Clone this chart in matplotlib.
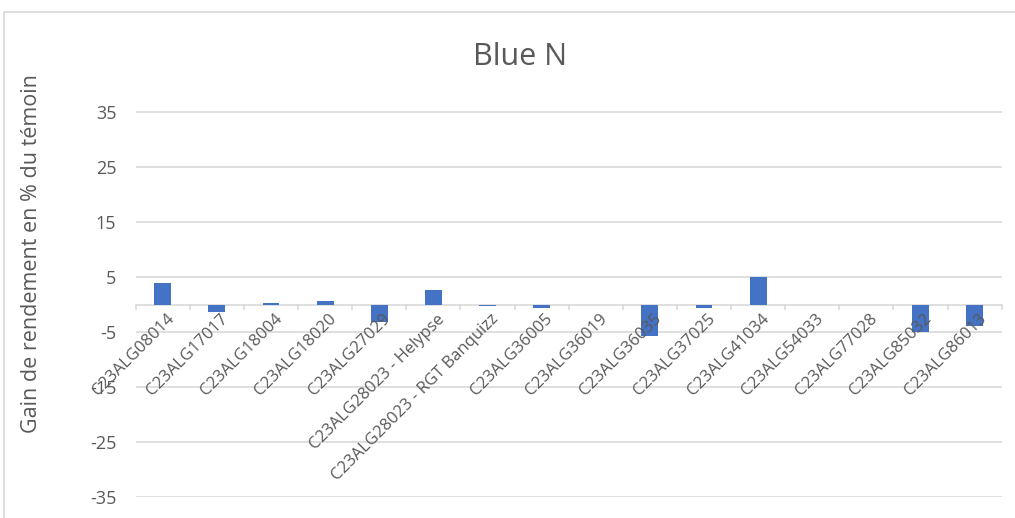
import numpy as np
from matplotlib import pyplot as plt
from matplotlib.patches import Rectangle

categories = ['C23ALG08014', 'C23ALG17017', 'C23ALG18004', 'C23ALG18020',
              'C23ALG27029', 'C23ALG28023 - Helypse', 'C23ALG28023 - RGT Banquizz',
              'C23ALG36005', 'C23ALG36019', 'C23ALG36035', 'C23ALG37025',
              'C23ALG41034', 'C23ALG54033', 'C23ALG77028', 'C23ALG85032', 'C23ALG86013']
gains = [4.0, -1.3, 0.2, 0.7, -3.1, 2.6, -0.2, -0.6, 0.0, -5.7, -0.7, 5.05, 0.0, 0.0, -4.95, -3.85]
yticks = [-35, -25, -15, -5, 5, 15, 25, 35]

plt.rcParams['font.family'] = ['Open Sans', 'DejaVu Sans']
plt.rcParams['axes.unicode_minus'] = False
text_col = '#595959'
grid_col = '#d9d9d9'

fig = plt.figure(figsize=(10.15, 5.18), dpi=100)
ax = fig.add_axes([135.7 / 1015, 1 - 497 / 518, 866 / 1015, (497 - 84.5) / 518])

x = np.arange(len(categories))
ax.bar(x, gains, width=0.31, color='#4472c4', zorder=3)

ax.set_xlim(-0.5, len(categories) - 0.5)
ax.set_ylim(-35, 40)
ax.set_yticks(yticks)
for y in yticks:
    ax.axhline(y, color=grid_col, lw=1.2, zorder=1)
ax.axhline(0, color=grid_col, lw=1.2, zorder=2)

# category boundary tick marks on the zero line
for b in np.arange(len(categories) + 1) - 0.5:
    ax.plot([b, b], [0, -0.9], color=grid_col, lw=1.2, zorder=2, clip_on=False)

for s in ax.spines.values():
    s.set_visible(False)
ax.tick_params(axis='y', length=0, labelsize=13, labelcolor=text_col, pad=14)
ax.set_xticks([])

for i, name in enumerate(categories):
    ax.text(i + 0.06, -1.2, name, rotation=45, ha='right', va='top',
            rotation_mode='anchor', fontsize=12, color=text_col)

fig.text(32 / 1015, 1 - 254 / 518, 'Gain de rendement en % du témoin', rotation=90,
         ha='center', va='center', fontsize=15.5, color=text_col)
fig.text(520 / 1015, 1 - 57 / 518, 'Blue N', ha='center', va='center', fontsize=22, color=text_col)

fig.patches.append(Rectangle((4 / 1015, -0.05), 1.1, 1 - 12 / 518 + 0.05, transform=fig.transFigure,
                             fill=False, edgecolor=grid_col, lw=1.2))

fig.savefig('out.png', dpi=100)
